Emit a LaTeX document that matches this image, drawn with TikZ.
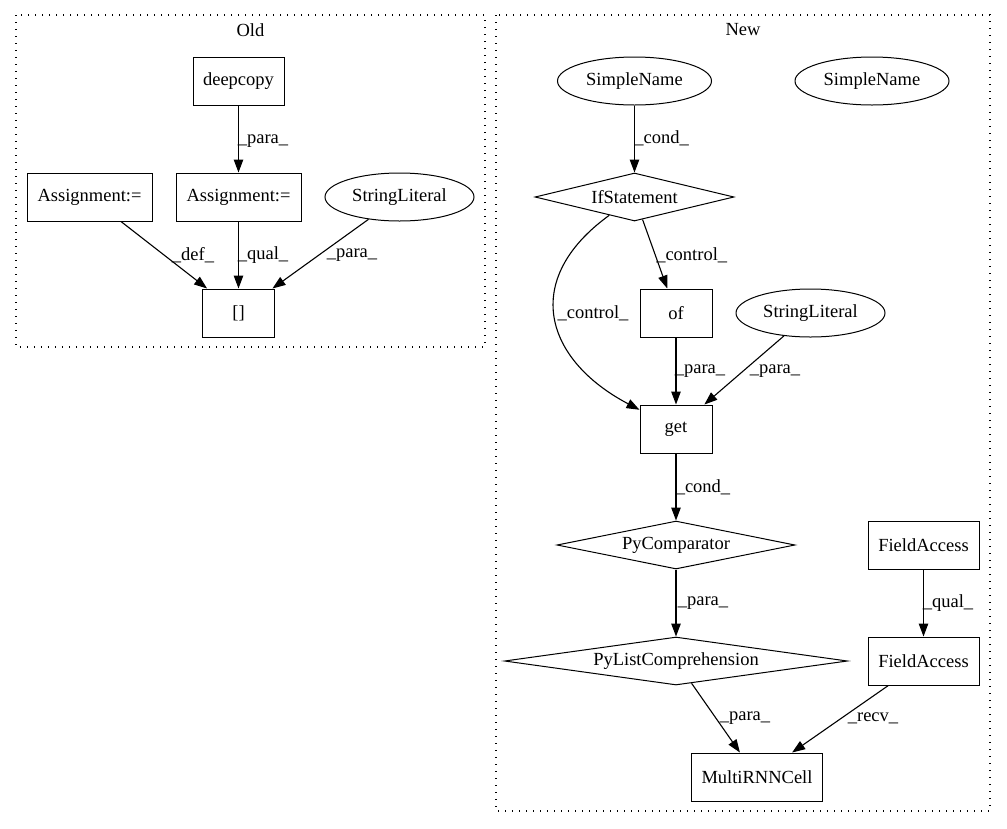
\documentclass[tikz,border=0pt]{standalone}
\usepackage{fontspec}
\setmainfont{Liberation Serif}
\usetikzlibrary{shapes.geometric,arrows.meta}
\tikzset{
  base/.style={draw=black, line width=1pt, inner sep=0pt, font=\fontsize{18.5}{20}\selectfont},
  box/.style={base, rectangle, minimum height=48pt},
  ell/.style={base, ellipse, minimum height=48pt},
  dia/.style={base, diamond, minimum height=48pt, aspect=6},
  lbl/.style={inner sep=0pt, font=\fontsize{18.5}{20}\selectfont},
  edge/.style={line width=1.1pt, -{Triangle[length=13pt,width=9.5pt]}},
  cluster/.style={line width=1.2pt, dash pattern=on 1.3pt off 5.7pt}
}
\begin{document}
\begin{tikzpicture}[x=1pt,y=-1pt]
\useasboundingbox (0,0) rectangle (1007,828);
% clusters
\draw[cluster] (16,15) rectangle (485,347);
\node[lbl] (oldt) at (250.5,30) {Old};
\draw[cluster] (496,15) rectangle (990,811);
\node[lbl] (newt) at (743,30) {New};
% Old nodes
\node[box, minimum width=91pt] (deep) at (238.5,81) {deepcopy};
\node[box, minimum width=125pt] (asR) at (238.5,197) {Assignment:=};
\node[box, minimum width=125pt] (asL) at (89.5,197) {Assignment:=};
\node[ell, minimum width=149pt] (sl1) at (399.5,197) {StringLiteral};
\node[box, minimum width=72pt] (br) at (238.5,313) {[]};
% New nodes
\node[ell, minimum width=154pt] (sn1) at (634.5,81) {SimpleName};
\node[ell, minimum width=154pt] (sn2) at (872,81) {SimpleName};
\node[dia, minimum width=199pt, aspect=4.1] (ifs) at (634.5,197) {IfStatement};
\node[box, minimum width=72pt] (of) at (676,313) {of};
\node[ell, minimum width=149pt] (sl2) at (810.5,313) {StringLiteral};
\node[box, minimum width=72pt] (get) at (676,429) {get};
\node[dia, minimum width=238pt, aspect=5] (pyc) at (676,545) {PyComparator};
\node[dia, minimum width=343pt, aspect=7.2] (pyl) at (676,661) {PyListComprehension};
\node[box, minimum width=111pt] (fa1) at (923.5,545) {FieldAccess};
\node[box, minimum width=111pt] (fa2) at (923.5,661) {FieldAccess};
\node[box, minimum width=131pt] (mrc) at (757,777) {MultiRNNCell};
% Old edges
\draw[edge] (deep) -- (asR);
\draw[edge] (asL) -- (br);
\draw[edge] (asR) -- (br);
\draw[edge] (sl1) -- (br);
\node[lbl] (l1) at (263,141) {\_para\_};
\node[lbl] (l2) at (193,255) {\_def\_};
\node[lbl] (l3) at (263,255) {\_qual\_};
\node[lbl] (l4) at (352,255) {\_para\_};
% New edges
\draw[edge] (sn1) -- (ifs);
\draw[edge] (ifs) -- (of);
\draw[edge] (ifs) .. controls (520,280) and (545,360) .. (get);
\draw[edge] (of) -- (get);
\draw[edge] (sl2) -- (get);
\draw[edge] (get) -- (pyc);
\draw[edge] (pyc) -- (pyl);
\draw[edge] (fa1) -- (fa2);
\draw[edge] (pyl) -- (mrc);
\draw[edge] (fa2) -- (mrc);
\node[lbl] (l5) at (661.7,138) {\_cond\_};
\node[lbl] (l6) at (691.7,255) {\_control\_};
\node[lbl] (l7) at (593,313) {\_control\_};
\node[lbl] (l8) at (700,371) {\_para\_};
\node[lbl] (l9) at (775,371) {\_para\_};
\node[lbl] (l10) at (703,487) {\_cond\_};
\node[lbl] (l11) at (703,603) {\_para\_};
\node[lbl] (l12) at (948,603) {\_qual\_};
\node[lbl] (l13) at (745,718) {\_para\_};
\node[lbl] (l14) at (873,718) {\_recv\_};
\end{tikzpicture}
\end{document}
